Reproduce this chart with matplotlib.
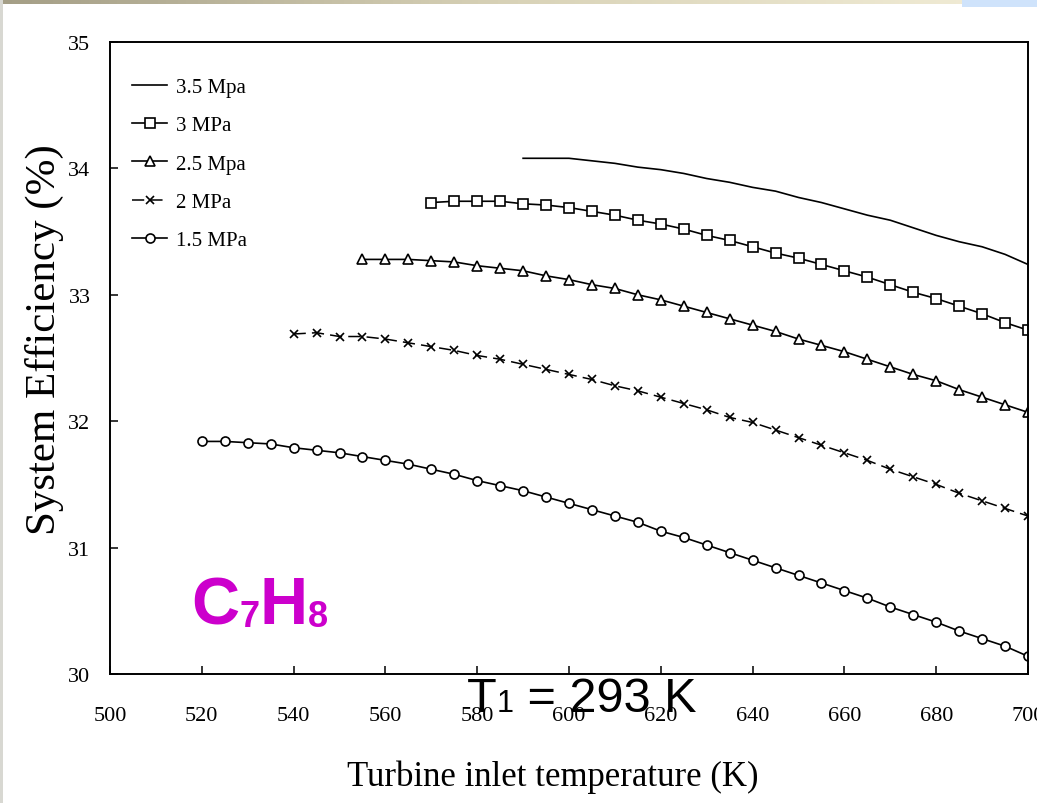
import matplotlib
matplotlib.use("Agg")
import matplotlib.pyplot as plt
import numpy as np
from matplotlib.patches import Rectangle

# turbine inlet temperature (K) and system efficiency (%) for each pressure
t_35 = list(range(590, 701, 5))
eff_35 = [34.08, 34.08, 34.08, 34.06, 34.04, 34.01, 33.99, 33.96, 33.92, 33.89,
          33.85, 33.82, 33.77, 33.73, 33.68, 33.63, 33.59, 33.53, 33.47, 33.42,
          33.38, 33.32, 33.24]

t_30 = list(range(570, 701, 5))
eff_30 = [33.73, 33.74, 33.74, 33.74, 33.72, 33.71, 33.69, 33.66, 33.63, 33.59,
          33.56, 33.52, 33.47, 33.43, 33.38, 33.33, 33.29, 33.24, 33.19, 33.14,
          33.08, 33.02, 32.97, 32.91, 32.85, 32.78, 32.72]

t_25 = list(range(555, 701, 5))
eff_25 = [33.28, 33.28, 33.28, 33.27, 33.26, 33.23, 33.21, 33.19, 33.15, 33.12,
          33.08, 33.05, 33.00, 32.96, 32.91, 32.86, 32.81, 32.76, 32.71, 32.65,
          32.60, 32.55, 32.49, 32.43, 32.37, 32.32, 32.25, 32.19, 32.13, 32.07]

t_20 = list(range(540, 701, 5))
eff_20 = [32.69, 32.70, 32.67, 32.67, 32.65, 32.62, 32.59, 32.56, 32.52, 32.49,
          32.45, 32.41, 32.37, 32.33, 32.28, 32.24, 32.19, 32.14, 32.09, 32.03,
          31.99, 31.93, 31.87, 31.81, 31.75, 31.69, 31.62, 31.56, 31.50, 31.43,
          31.37, 31.31, 31.25]

t_15 = list(range(520, 701, 5))
eff_15 = [31.84, 31.84, 31.83, 31.82, 31.79, 31.77, 31.75, 31.72, 31.69, 31.66,
          31.62, 31.58, 31.53, 31.49, 31.45, 31.40, 31.35, 31.30, 31.25, 31.20,
          31.13, 31.08, 31.02, 30.96, 30.90, 30.84, 30.78, 30.72, 30.66, 30.60,
          30.53, 30.47, 30.41, 30.34, 30.28, 30.22, 30.14]

labels = ["3.5 Mpa", "3 MPa", "2.5 Mpa", "2 MPa", "1.5 MPa"]
x_ticks = list(range(500, 701, 20))
y_ticks = [30, 31, 32, 33, 34, 35]

serif = "Liberation Serif"
sans = "Liberation Sans"
magenta = "#cc00cc"

fig = plt.figure(figsize=(10.37, 8.04), dpi=100)
ax = fig.add_axes([110 / 1037, 1 - 675 / 804, 918 / 1037, 632 / 804])

# slide decoration along the top edge
grad = np.linspace(0, 1, 256).reshape(1, -1)
deco = fig.add_axes([0, 1 - 5 / 804, 1, 5 / 804])
deco.imshow(grad, aspect="auto", cmap=matplotlib.colors.LinearSegmentedColormap.from_list(
    "band", ["#a49e86", "#d9d3b8", "#f3eed8"]))
deco.axis("off")
fig.patches.append(Rectangle((962 / 1037, 1 - 8 / 804), 75 / 1037, 8 / 804,
                             transform=fig.transFigure, facecolor="#cfe3fb",
                             edgecolor="none"))
fig.patches.append(Rectangle((0, 0), 3 / 1037, 1, transform=fig.transFigure,
                             facecolor="#d8d8d2", edgecolor="none"))

kw = dict(color="black", linewidth=1.2, markersize=6.5, markeredgewidth=1.2,
          markerfacecolor="white", markeredgecolor="black")
ax.plot(t_35, eff_35, label=labels[0], color="black", linewidth=1.2)
ax.plot(t_30, eff_30, marker="s", label=labels[1], **kw)
ax.plot(t_25, eff_25, marker="^", label=labels[2], **kw)
ax.plot(t_20, eff_20, marker="x", linestyle=(0, (8, 4)), label=labels[3],
        color="black", linewidth=1.1, markersize=5.5, markeredgewidth=1.2)
ax.plot(t_15, eff_15, marker="o", label=labels[4], **kw)

ax.set_xlim(500, 700)
ax.set_ylim(30, 35)
ax.set_xticks(x_ticks)
ax.set_yticks(y_ticks)
ax.tick_params(axis="both", direction="in", length=6, width=1.1,
               labelsize=16, labelfontfamily=serif)
ax.tick_params(axis="x", pad=23)
ax.tick_params(axis="y", pad=14)
for s in ax.spines.values():
    s.set_linewidth(1.4)

ax.set_xlabel("Turbine inlet temperature (K)", fontsize=25, family=serif)
ax.xaxis.set_label_coords(0.4826, -0.136)
ax.set_ylabel("System Efficiency (%)", fontsize=31, family=serif)
ax.yaxis.set_label_coords(-0.05, 0.53)

ax.legend(loc="upper left", bbox_to_anchor=(0.024, 0.944), frameon=False,
          prop={"family": serif, "size": 15}, handlelength=1.7,
          handletextpad=0.4, labelspacing=0.9, borderpad=0, borderaxespad=0)

# compound name with small digits
c = ax.text(0.0885, 0.0804, "C", transform=ax.transAxes, fontsize=48,
            fontweight="bold", family=sans, color=magenta, va="baseline")
n7 = ax.annotate("7", xy=(1, 0), xycoords=c, xytext=(0, 2.5),
                 textcoords="offset points", fontsize=26, fontweight="bold",
                 family=sans, color=magenta, va="bottom")
h = ax.annotate("H", xy=(1, 0), xycoords=(n7, c), fontsize=48,
                fontweight="bold", family=sans, color=magenta, va="bottom")
ax.annotate("8", xy=(1, 0), xycoords=(h, c), xytext=(0, 2.5),
            textcoords="offset points", fontsize=26, fontweight="bold",
            family=sans, color=magenta, va="bottom")

# inlet condition label sitting on the bottom axis
t = ax.text(0.389, -0.058, "T", transform=ax.transAxes, fontsize=35,
            family=sans, va="baseline", clip_on=False, zorder=5)
one = ax.annotate("1", xy=(1, 0), xycoords=t, xytext=(0, 2),
                  textcoords="offset points", fontsize=22, family=sans,
                  va="bottom", annotation_clip=False, zorder=5)
ax.annotate(" = 293 K", xy=(1, 0), xycoords=(one, t), fontsize=35,
            family=sans, va="bottom", annotation_clip=False, zorder=5)

fig.savefig("out.png", dpi=100)
